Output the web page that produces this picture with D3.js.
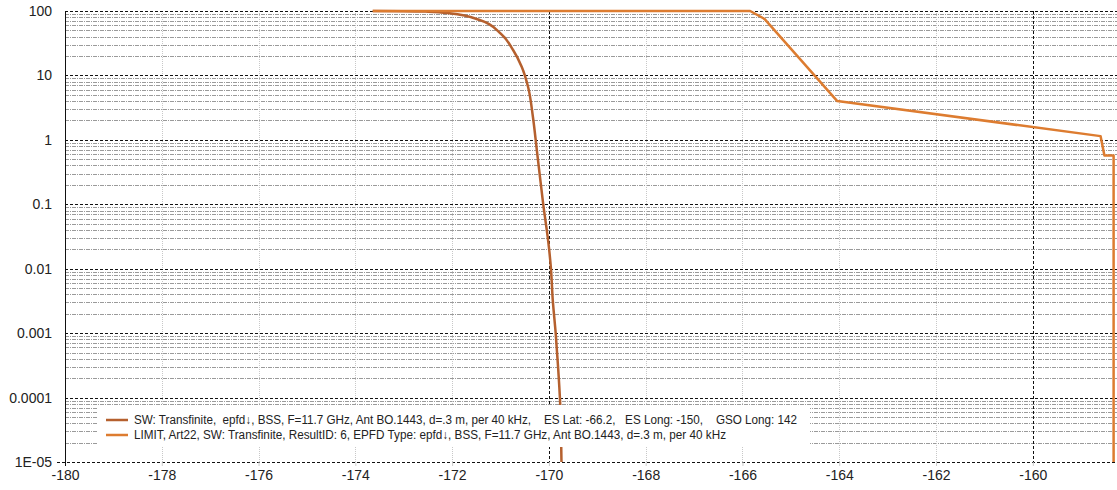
<!DOCTYPE html>
<html>
<head>
<meta charset="utf-8">
<script src="https://cdn.jsdelivr.net/npm/d3@7"></script>
<style>
  html, body { margin: 0; padding: 0; background: #fff; }
  svg { display: block; }
</style>
</head>
<body>
<svg id="chart" width="1117" height="490"></svg>
<script>
// ---- data ----
const xTicks = [-180, -178, -176, -174, -172, -170, -168, -166, -164, -162, -160];
const yTicks = [100, 10, 1, 0.1, 0.01, 0.001, 0.0001, 0.00001];
const yTickLabels = ["100", "10", "1", "0.1", "0.01", "0.001", "0.0001", "1E-05"];

const swX = [-173.64, -173.0, -172.5, -172.05, -171.43, -171.01, -170.74, -170.56, -170.43, -170.33, -170.25, -170.12, -170.0, -169.96, -169.92, -169.86, -169.81, -169.77, -169.74, -169.72];
const swY = [100, 99.5, 97.5, 92.1, 72.4, 45.5, 24.8, 13.5, 6.6, 2.26, 0.70, 0.104, 0.0216, 0.0106, 0.00325, 0.001, 0.000295, 0.0000912, 0.00001, 0.000001];

const limX = [-173.64, -165.841, -165.541, -164.041, -158.6, -158.52, -158.33, -158.33];
const limY = [100, 100, 75, 4, 1.143, 0.571, 0.571, 0.000001];

const seriesNames = [
  "SW: Transfinite,  epfd\u2193, BSS, F=11.7 GHz, Ant BO.1443, d=.3 m, per 40 kHz,    ES Lat: -66.2,   ES Long: -150,    GSO Long: 142",
  "LIMIT, Art22, SW: Transfinite, ResultID: 6, EPFD Type: epfd\u2193, BSS, F=11.7 GHz, Ant BO.1443, d=.3 m, per 40 kHz"
];
const seriesColors = ["#b5602e", "#dd7c30"];

// ---- layout ----
const svg = d3.select("#chart");
const L = 65, R = 1117, T = 11, B = 462;
const x = d3.scaleLinear().domain([-180, -158.26]).range([L, R]);
const y = d3.scaleLog().domain([0.00001, 100]).range([B, T]);

const font = "'Liberation Sans', Arial, sans-serif";

// minor horizontal gridlines
const minorY = [];
for (let e = -5; e < 2; e++) for (let m = 2; m <= 9; m++) minorY.push(m * Math.pow(10, e));
const grid = svg.append("g");
grid.selectAll("line.minY").data(minorY).enter().append("line")
  .attr("x1", L).attr("x2", R)
  .attr("y1", d => Math.round(y(d)) + 0.5).attr("y2", d => Math.round(y(d)) + 0.5)
  .attr("stroke", "#9a9a9a").attr("stroke-width", 1).attr("stroke-dasharray", "4,1,1,1");

// minor vertical gridlines
const minorX = xTicks.filter(v => v % 10 !== 0);
grid.selectAll("line.minX").data(minorX).enter().append("line")
  .attr("y1", T).attr("y2", B)
  .attr("x1", d => Math.round(x(d)) + 0.5).attr("x2", d => Math.round(x(d)) + 0.5)
  .attr("stroke", "#c8c8c8").attr("stroke-width", 1).attr("stroke-dasharray", "1,1");

// major vertical gridlines
grid.selectAll("line.majX").data(xTicks.filter(v => v % 10 === 0 && v !== -180)).enter().append("line")
  .attr("y1", T).attr("y2", B)
  .attr("x1", d => Math.round(x(d)) + 0.5).attr("x2", d => Math.round(x(d)) + 0.5)
  .attr("stroke", "#111").attr("stroke-width", 1).attr("stroke-dasharray", "3,2");

// major horizontal gridlines
grid.selectAll("line.majY").data(yTicks).enter().append("line")
  .attr("x1", d => d === 0.00001 ? L - 8 : L).attr("x2", R)
  .attr("y1", d => Math.round(y(d)) + 0.5).attr("y2", d => Math.round(y(d)) + 0.5)
  .attr("stroke", "#111").attr("stroke-width", 1).attr("stroke-dasharray", "3,2");

// axes
const xAxis = d3.axisBottom(x).tickValues(xTicks).tickSize(4).tickFormat(d3.format("d"));
const gx = svg.append("g").attr("transform", `translate(0,${B})`).call(xAxis);
gx.select(".domain").remove();
gx.selectAll(".tick line").attr("stroke", "#ccc");
gx.selectAll(".tick").filter(d => d === -180).select("line").attr("stroke", "#111");
gx.selectAll(".tick text").attr("font-family", font).attr("font-size", 14).attr("fill", "#222").attr("dy", "0.6em").attr("y", 10)
  .text(d => d3.format("d")(d).replace("\u2212", "-"));

const yAxis = d3.axisLeft(y).tickValues(yTicks).tickSize(0).tickFormat((d, i) => yTickLabels[i]);
const gy = svg.append("g").attr("transform", `translate(${L},0)`).call(yAxis);
gy.select(".domain").remove();
gy.selectAll(".tick text").attr("font-family", font).attr("font-size", 14).attr("fill", "#222").attr("x", -13);

svg.append("line").attr("x1", L + 0.5).attr("x2", L + 0.5).attr("y1", T).attr("y2", B + 4)
  .attr("stroke", "#111").attr("stroke-width", 1);

// series
svg.append("clipPath").attr("id", "plotclip").append("rect")
  .attr("x", L).attr("y", T - 3).attr("width", R - L).attr("height", B - T + 3);
const swData = swX.map((v, i) => [v, swY[i]]);
const limData = limX.map((v, i) => [v, limY[i]]);
const plot = svg.append("g").attr("clip-path", "url(#plotclip)");
plot.append("path").datum(swData)
  .attr("d", d3.line().x(d => x(d[0])).y(d => y(d[1])).curve(d3.curveMonotoneY))
  .attr("fill", "none").attr("stroke", seriesColors[0]).attr("stroke-width", 2.5);
plot.append("path").datum(limData)
  .attr("d", d3.line().x(d => x(d[0])).y(d => y(d[1])))
  .attr("fill", "none").attr("stroke", seriesColors[1]).attr("stroke-width", 2.5).attr("stroke-linejoin", "round");

// legend
const lg = svg.append("g");
lg.append("rect").attr("x", 97).attr("y", 405).attr("width", 713).attr("height", 42).attr("fill", "#fff");
const rows = [420, 435];
const ends = [797, 726];
seriesNames.forEach((name, i) => {
  lg.append("line").attr("x1", 106).attr("x2", 128).attr("y1", rows[i]).attr("y2", rows[i])
    .attr("stroke", seriesColors[i]).attr("stroke-width", 2.5);
  lg.append("text").attr("x", 134).attr("y", rows[i]).attr("dy", "0.35em")
    .attr("font-family", font).attr("font-size", 12).attr("fill", "#222")
    .attr("xml:space", "preserve").style("white-space", "pre")
    .attr("textLength", ends[i] - 134).attr("lengthAdjust", "spacingAndGlyphs")
    .text(name);
});
</script>
</body>
</html>
